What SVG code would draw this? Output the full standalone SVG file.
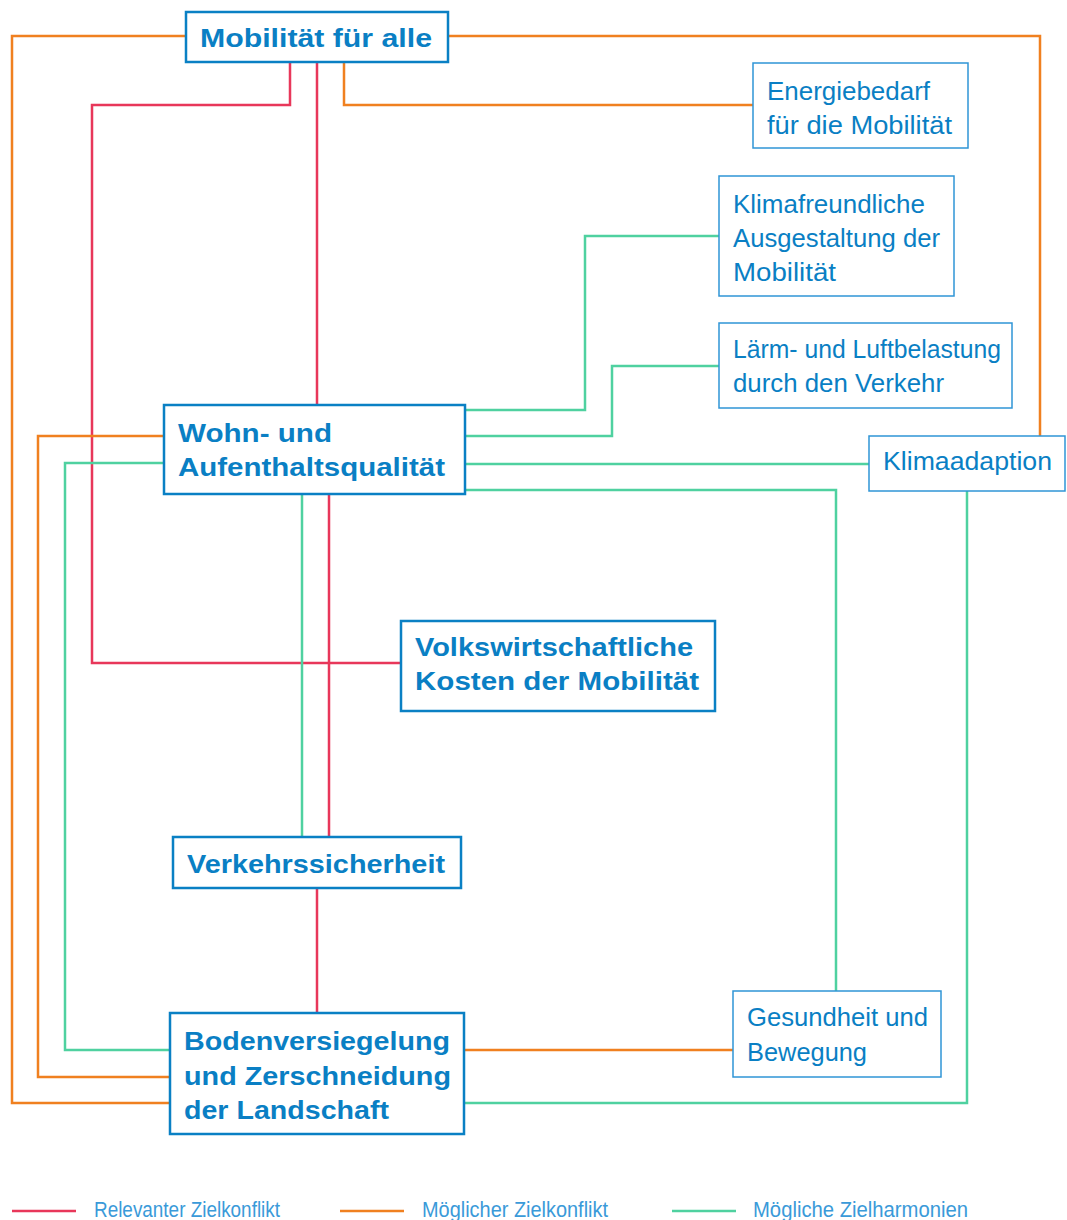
<svg xmlns="http://www.w3.org/2000/svg" width="1067" height="1220" viewBox="0 0 1067 1220">
<style>
.main{fill:#fff;stroke:#0a80c4;stroke-width:2.5}
.sub{fill:#fff;stroke:#2f95d6;stroke-width:1.5}
.tb{font-family:"Liberation Sans",Arial,sans-serif;font-weight:bold;font-size:26px;fill:#0a7fc4}
.tr{font-family:"Liberation Sans",Arial,sans-serif;font-size:26px;fill:#0a7fc4}
.tl{font-family:"Liberation Sans",Arial,sans-serif;font-size:22px;fill:#3a9ad9}
.red{fill:none;stroke:#e8375a;stroke-width:2.5}
.org{fill:none;stroke:#f08020;stroke-width:2.5}
.grn{fill:none;stroke:#4fd1a0;stroke-width:2.5}
</style>
<rect width="1067" height="1220" fill="#fff"/>
<g id="connectors">
<polyline class="org" points="186,36 12,36 12,1103 170,1103"/>
<polyline class="org" points="448,36 1040,36 1040,436"/>
<polyline class="red" points="290,62 290,105 92,105 92,663 401,663"/>
<polyline class="red" points="317,62 317,405"/>
<polyline class="org" points="344,62 344,105 753,105"/>
<polyline class="grn" points="465,410 585,410 585,236 719,236"/>
<polyline class="grn" points="465,436 612,436 612,366 719,366"/>
<polyline class="grn" points="465,464 869,464"/>
<polyline class="grn" points="465,490 836,490 836,991"/>
<polyline class="grn" points="967,491 967,1103 464,1103"/>
<polyline class="org" points="164,436 38,436 38,1077 170,1077"/>
<polyline class="grn" points="164,463 65,463 65,1050 170,1050"/>
<polyline class="grn" points="302,494 302,837"/>
<polyline class="red" points="329,494 329,837"/>
<polyline class="red" points="317,888 317,1013"/>
<polyline class="org" points="464,1050 733,1050"/>
</g>
<g id="mobilitaet">
<rect class="main" x="186" y="12" width="262" height="50"/>
<text class="tb" x="200" y="47" textLength="232" lengthAdjust="spacingAndGlyphs">Mobilität für alle</text>
</g>
<g id="energie">
<rect class="sub" x="753" y="63" width="215" height="85"/>
<text class="tr" x="767" y="100" textLength="163" lengthAdjust="spacingAndGlyphs">Energiebedarf</text>
<text class="tr" x="767" y="134" textLength="185" lengthAdjust="spacingAndGlyphs">für die Mobilität</text>
</g>
<g id="klimafreundlich">
<rect class="sub" x="719" y="176" width="235" height="120"/>
<text class="tr" x="733" y="213" textLength="192" lengthAdjust="spacingAndGlyphs">Klimafreundliche</text>
<text class="tr" x="733" y="247" textLength="207" lengthAdjust="spacingAndGlyphs">Ausgestaltung der</text>
<text class="tr" x="733" y="281" textLength="103" lengthAdjust="spacingAndGlyphs">Mobilität</text>
</g>
<g id="laerm">
<rect class="sub" x="719" y="323" width="293" height="85"/>
<text class="tr" x="733" y="358" textLength="268" lengthAdjust="spacingAndGlyphs">Lärm- und Luftbelastung</text>
<text class="tr" x="733" y="392" textLength="211" lengthAdjust="spacingAndGlyphs">durch den Verkehr</text>
</g>
<g id="klimaadaption">
<rect class="sub" x="869" y="436" width="196" height="55"/>
<text class="tr" x="883" y="470" textLength="169" lengthAdjust="spacingAndGlyphs">Klimaadaption</text>
</g>
<g id="wohn">
<rect class="main" x="164" y="405" width="301" height="89"/>
<text class="tb" x="178" y="442" textLength="154" lengthAdjust="spacingAndGlyphs">Wohn- und</text>
<text class="tb" x="178" y="476" textLength="267" lengthAdjust="spacingAndGlyphs">Aufenthaltsqualität</text>
</g>
<g id="volkswirtschaft">
<rect class="main" x="401" y="621" width="314" height="90"/>
<text class="tb" x="415" y="656" textLength="278" lengthAdjust="spacingAndGlyphs">Volkswirtschaftliche</text>
<text class="tb" x="415" y="690" textLength="284" lengthAdjust="spacingAndGlyphs">Kosten der Mobilität</text>
</g>
<g id="verkehrssicherheit">
<rect class="main" x="173" y="837" width="288" height="51"/>
<text class="tb" x="187" y="873" textLength="258" lengthAdjust="spacingAndGlyphs">Verkehrssicherheit</text>
</g>
<g id="boden">
<rect class="main" x="170" y="1013" width="294" height="121"/>
<text class="tb" x="184" y="1050" textLength="266" lengthAdjust="spacingAndGlyphs">Bodenversiegelung</text>
<text class="tb" x="184" y="1085" textLength="267" lengthAdjust="spacingAndGlyphs">und Zerschneidung</text>
<text class="tb" x="184" y="1119" textLength="205" lengthAdjust="spacingAndGlyphs">der Landschaft</text>
</g>
<g id="gesundheit">
<rect class="sub" x="733" y="991" width="208" height="86"/>
<text class="tr" x="747" y="1026" textLength="181" lengthAdjust="spacingAndGlyphs">Gesundheit und</text>
<text class="tr" x="747" y="1061" textLength="120" lengthAdjust="spacingAndGlyphs">Bewegung</text>
</g>
<g id="legend">
<line class="red" x1="12" y1="1211" x2="76" y2="1211" stroke-width="3.5"/>
<text class="tl" x="94" y="1217" textLength="186" lengthAdjust="spacingAndGlyphs">Relevanter Zielkonflikt</text>
<line class="org" x1="340" y1="1211" x2="404" y2="1211" stroke-width="3.5"/>
<text class="tl" x="422" y="1217" textLength="186" lengthAdjust="spacingAndGlyphs">Möglicher Zielkonflikt</text>
<line class="grn" x1="672" y1="1211" x2="736" y2="1211" stroke-width="3.5"/>
<text class="tl" x="753" y="1217" textLength="215" lengthAdjust="spacingAndGlyphs">Mögliche Zielharmonien</text>
</g>
</svg>
